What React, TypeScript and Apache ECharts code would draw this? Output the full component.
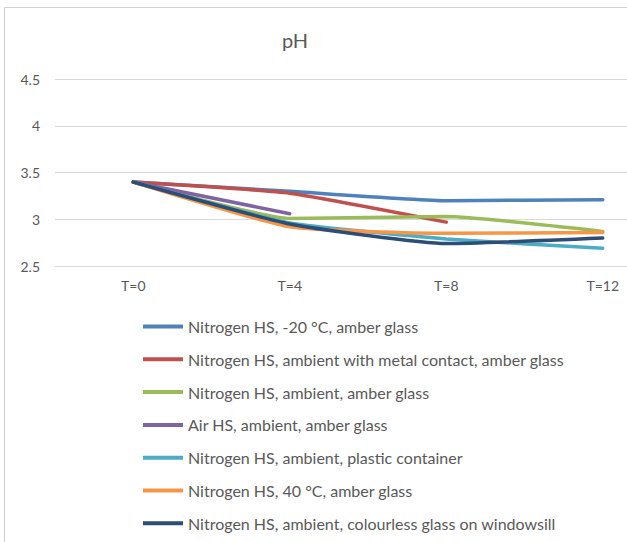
import React, { useEffect, useRef } from "react";
import * as echarts from "echarts";

// Sampling times
const categories = ["T=0", "T=4", "T=8", "T=12"];

// pH readings per storage condition (null = not measured)
const nitrogenMinus20 = [3.4, 3.3, 3.2, 3.21];
const nitrogenMetalContact = [3.4, 3.28, 2.97, null];
const nitrogenAmbientAmber = [3.4, 3.01, 3.03, 2.87];
const airAmbientAmber = [3.4, 3.06, null, null];
const nitrogenPlastic = [3.4, 2.96, 2.79, 2.69];
const nitrogen40C = [3.4, 2.92, 2.85, 2.86];
const nitrogenWindowsill = [3.4, 2.95, 2.74, 2.8];

const seriesNames = [
  "Nitrogen HS, -20 °C, amber glass",
  "Nitrogen HS, ambient with metal contact, amber glass",
  "Nitrogen HS, ambient, amber glass",
  "Air HS, ambient, amber glass",
  "Nitrogen HS, ambient, plastic container",
  "Nitrogen HS, 40 °C, amber glass",
  "Nitrogen HS, ambient, colourless glass on windowsill",
];
const seriesValues = [
  nitrogenMinus20,
  nitrogenMetalContact,
  nitrogenAmbientAmber,
  airAmbientAmber,
  nitrogenPlastic,
  nitrogen40C,
  nitrogenWindowsill,
];
const palette = ["#4F81BD", "#C0504D", "#9BBB59", "#8064A2", "#4BACC6", "#F79646", "#2C4D75"];

const FONT = "Lato, 'Open Sans', sans-serif";
const TEXT = "#595959";

export default function App() {
  const ref = useRef<HTMLDivElement>(null);

  useEffect(() => {
    document.body.style.margin = "0";
    const chart = echarts.init(ref.current!, null, { renderer: "svg" });
    chart.setOption({
      animation: false,
      backgroundColor: "#ffffff",
      color: palette,
      textStyle: { fontFamily: FONT },
      title: {
        text: "pH",
        left: 290,
        top: 25,
        textAlign: "center",
        textStyle: { fontSize: 20, fontWeight: "normal", color: TEXT, fontFamily: FONT },
      },
      graphic: [
        {
          type: "rect",
          shape: { x: 4.5, y: 7.5, width: 700, height: 600 },
          style: { fill: "none", stroke: "#d0d0d0", lineWidth: 1 },
          silent: true,
        },
      ],
      // plot area runs past the right edge of the canvas
      grid: {
        left: 55,
        top: 79.3,
        width: 626,
        height: 186.7,
        containLabel: false,
        outerBoundsMode: "none",
      },
      xAxis: {
        type: "category",
        data: categories,
        boundaryGap: true,
        axisLine: { show: true, lineStyle: { color: "#d9d9d9" } },
        axisTick: { show: false },
        axisLabel: { color: TEXT, fontSize: 14, margin: 12, fontFamily: FONT },
      },
      yAxis: {
        type: "value",
        min: 2.5,
        max: 4.5,
        interval: 0.5,
        axisLine: { show: false },
        axisTick: { show: false },
        axisLabel: { color: TEXT, fontSize: 14, margin: 15, fontFamily: FONT },
        splitLine: { lineStyle: { color: "#d9d9d9", width: 1 } },
      },
      legend: {
        orient: "vertical",
        left: 138,
        top: 313.5,
        icon: "rect",
        itemWidth: 40,
        itemHeight: 4,
        itemGap: 16.8,
        textStyle: { color: TEXT, fontSize: 16, lineHeight: 16, fontFamily: FONT },
        data: seriesNames,
      },
      series: seriesNames.map((name, i) => ({
        name,
        type: "line",
        data: seriesValues[i],
        smooth: 0.15,
        symbol: "none",
        connectNulls: false,
        lineStyle: { width: 3.5, color: palette[i], cap: "round" },
        itemStyle: { color: palette[i] },
      })),
    });
    return () => chart.dispose();
  }, []);

  return (
    <div
      ref={ref}
      style={{ position: "fixed", left: 0, top: 0, width: 627, height: 542 }}
    />
  );
}
